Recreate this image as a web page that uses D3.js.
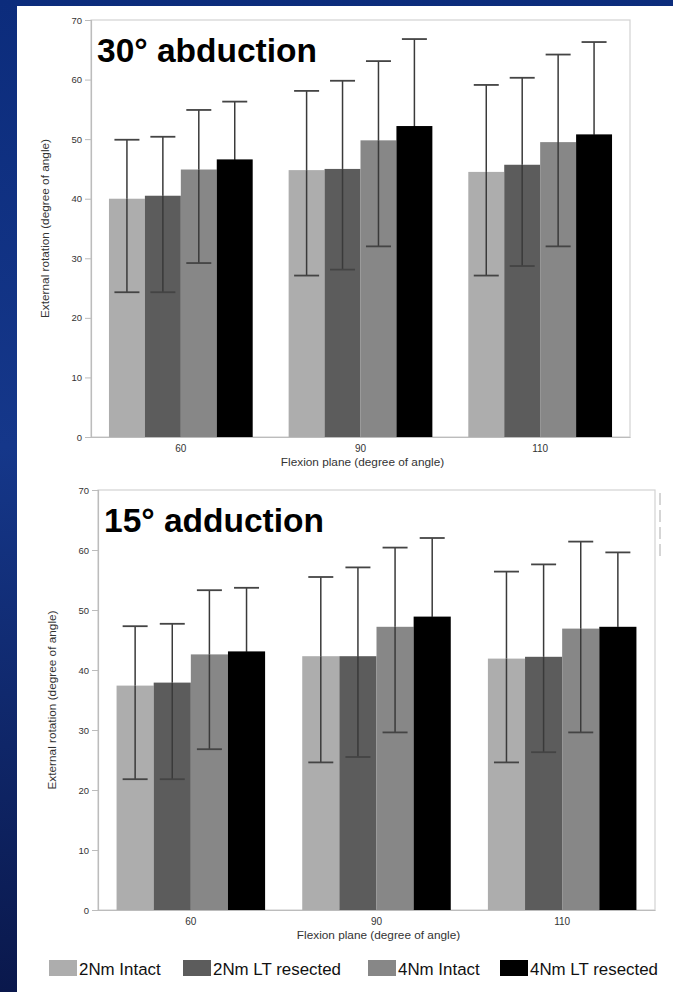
<!DOCTYPE html>
<html>
<head>
<meta charset="utf-8">
<script src="https://cdn.jsdelivr.net/npm/d3@7"></script>
<style>
  body { margin: 0; padding: 0; }
  svg { display: block; font-family: "Liberation Sans", Arial, Helvetica, sans-serif; }
</style>
</head>
<body>
<div id="chart"></div>
<script>
/* DATA */
const flexion = ["60", "90", "110"];
const series = ["2Nm Intact", "2Nm LT resected", "4Nm Intact", "4Nm LT resected"];
const yTicks = [0, 10, 20, 30, 40, 50, 60, 70];

// 30° abduction: mean, lower and upper whisker per flexion plane (one row per plane)
const abdMean = [[40.0, 40.5, 44.9, 46.6], [44.8, 45.0, 49.8, 52.2], [44.5, 45.7, 49.5, 50.8]];
const abdLow  = [[24.3, 24.3, 29.2, 36.5], [27.1, 28.1, 32.0, 37.5], [27.1, 28.7, 32.0, 35.5]];
const abdHigh = [[49.9, 50.4, 54.9, 56.3], [58.1, 59.8, 63.1, 66.8], [59.1, 60.3, 64.2, 66.3]];

// 15° adduction
const addMean = [[37.4, 37.9, 42.6, 43.1], [42.3, 42.3, 47.2, 48.9], [41.9, 42.2, 46.9, 47.2]];
const addLow  = [[21.8, 21.8, 26.8, 32.5], [24.6, 25.5, 29.6, 35.8], [24.6, 26.3, 29.6, 34.8]];
const addHigh = [[47.3, 47.7, 53.3, 53.7], [55.5, 57.1, 60.4, 62.0], [56.4, 57.6, 61.4, 59.6]];

const colors = ["#adadad", "#5c5c5c", "#878787", "#000000"];

/* CONSTANTS */
const width = 673, height = 992;

const svg = d3.select("#chart")
  .append("svg")
  .attr("width", width)
  .attr("height", height);

// blue slide background
const defs = svg.append("defs");
const grad = defs.append("linearGradient")
  .attr("id", "bg").attr("x1", 0).attr("y1", 0).attr("x2", 0).attr("y2", 1);
grad.append("stop").attr("offset", "0%").attr("stop-color", "#0c2c7c");
grad.append("stop").attr("offset", "45%").attr("stop-color", "#15378a");
grad.append("stop").attr("offset", "100%").attr("stop-color", "#0a184c");

svg.append("rect").attr("width", width).attr("height", height).attr("fill", "url(#bg)");
svg.append("rect").attr("x", 17).attr("y", 6).attr("width", width - 17).attr("height", height - 6)
  .attr("fill", "#ffffff");

function toRows(mean, low, high) {
  const rows = [];
  flexion.forEach((f, i) => {
    series.forEach((s, j) => {
      rows.push({ plane: f, series: s, idx: j, mean: mean[i][j], low: low[i][j], high: high[i][j] });
    });
  });
  return rows;
}

function drawPanel(p) {
  const g = svg.append("g");
  const rows = toRows(p.mean, p.low, p.high);

  const x = d3.scaleBand().domain(flexion).range([p.left, p.right])
    .paddingInner(0.2).paddingOuter(0.1);
  const xs = d3.scaleBand().domain(series).range([0, x.bandwidth()]);
  const y = d3.scaleLinear().domain([0, 70]).range([p.bottom, p.top]);

  // frame
  g.append("rect")
    .attr("x", p.left).attr("y", p.top)
    .attr("width", p.right - p.left).attr("height", p.bottom - p.top)
    .attr("fill", "none").attr("stroke", "#d2d2d2").attr("stroke-width", 1.2);

  // y axis
  const yAxis = d3.axisLeft(y).tickValues(yTicks).tickSize(6).tickPadding(3);
  const ya = g.append("g").attr("transform", `translate(${p.left},0)`).call(yAxis);
  ya.select(".domain").attr("stroke", "#bcbcbc").attr("stroke-width", 1.2);
  ya.selectAll(".tick line").attr("stroke", "#bcbcbc");
  ya.selectAll(".tick text").attr("fill", "#333").style("font-size", "9.5px")
    .style("font-family", "'Liberation Sans', Arial, sans-serif");

  // y axis title
  g.append("text")
    .attr("transform", `translate(${p.left - 42},${(p.top + p.bottom) / 2}) rotate(-90)`)
    .attr("text-anchor", "middle")
    .attr("fill", "#333")
    .style("font-size", "11.8px")
    .text("External rotation (degree of angle)");

  // bars
  g.selectAll("rect.bar")
    .data(rows)
    .join("rect")
    .attr("class", "bar")
    .attr("x", d => x(d.plane) + xs(d.series))
    .attr("y", d => y(d.mean))
    .attr("width", xs.bandwidth())
    .attr("height", d => y(0) - y(d.mean))
    .attr("fill", d => colors[d.idx]);

  // error bars (the part inside a black bar is drawn black, so it disappears)
  const cap = 12.5;
  const inner = d => d.idx === 3 ? "#000" : "#3a3a3a";
  const eb = g.selectAll("g.err").data(rows).join("g").attr("class", "err")
    .attr("transform", d => `translate(${x(d.plane) + xs(d.series) + xs.bandwidth() / 2},0)`)
    .attr("stroke-width", 1.5);
  eb.append("line").attr("y1", d => y(d.mean)).attr("y2", d => y(d.high)).attr("stroke", "#3a3a3a");
  eb.append("line").attr("y1", d => y(d.low)).attr("y2", d => y(d.mean)).attr("stroke", inner);
  eb.append("line").attr("x1", -cap).attr("x2", cap).attr("y1", d => y(d.high)).attr("y2", d => y(d.high))
    .attr("stroke", "#444").attr("stroke-width", 1.8);
  eb.append("line").attr("x1", -cap).attr("x2", cap).attr("y1", d => y(d.low)).attr("y2", d => y(d.low))
    .attr("stroke", d => d.idx === 3 ? "#000" : "#444").attr("stroke-width", 1.8);

  // x axis
  const xAxis = d3.axisBottom(x).tickSize(0).tickPadding(8);
  const xa = g.append("g").attr("transform", `translate(0,${p.bottom})`).call(xAxis);
  xa.select(".domain").attr("stroke", "#bcbcbc").attr("stroke-width", 1.2);
  xa.selectAll(".tick text").attr("fill", "#333").style("font-size", "10px")
    .style("font-family", "'Liberation Sans', Arial, sans-serif");

  g.append("text")
    .attr("x", (p.left + p.right) / 2 + 2)
    .attr("y", p.bottom + 29)
    .attr("text-anchor", "middle")
    .attr("fill", "#333")
    .style("font-size", "11.8px")
    .text("Flexion plane (degree of angle)");

  // panel title
  g.append("text")
    .attr("x", p.left + 6)
    .attr("y", p.top + 42)
    .attr("fill", "#000")
    .style("font-size", "33.5px")
    .style("font-weight", "bold")
    .text(p.title);
}

drawPanel({ left: 91, right: 630, top: 20, bottom: 437, title: "30° abduction",
  mean: abdMean, low: abdLow, high: abdHigh });
drawPanel({ left: 98, right: 655, top: 490, bottom: 910, title: "15° adduction",
  mean: addMean, low: addLow, high: addHigh });

// small dashed artefact at the right of the lower panel
svg.append("line")
  .attr("x1", 660).attr("x2", 660).attr("y1", 493).attr("y2", 558)
  .attr("stroke", "#c8c8c8").attr("stroke-width", 1.5)
  .attr("stroke-dasharray", "12,5");

// legend
const legendX = [49, 183, 368, 500];
const legend = svg.append("g").selectAll("g")
  .data(series)
  .join("g")
  .attr("transform", (d, i) => `translate(${legendX[i]},960)`);
legend.append("rect").attr("width", 28).attr("height", 16).attr("fill", (d, i) => colors[i]);
legend.append("text")
  .attr("x", 30).attr("y", 14.5)
  .attr("fill", "#111")
  .style("font-size", "16.9px")
  .text(d => d);
</script>
</body>
</html>
